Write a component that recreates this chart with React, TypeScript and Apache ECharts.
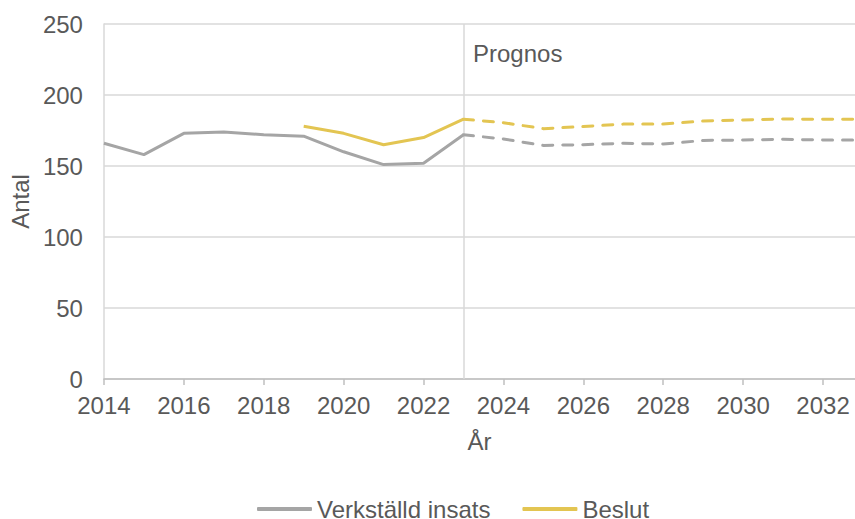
import React, { useEffect, useRef } from "react";
import * as echarts from "echarts";

const histYears = [2014, 2015, 2016, 2017, 2018, 2019, 2020, 2021, 2022, 2023];
const histVerkstalld = [166, 158, 173, 174, 172, 171, 160, 151, 152, 172];
const histBeslutYears = [2019, 2020, 2021, 2022, 2023];
const histBeslut = [178, 173, 165, 170, 183];
const progYears = [2023, 2024, 2025, 2026, 2027, 2028, 2029, 2030, 2031, 2032, 2033];
const progVerkstalld = [172, 169, 164.5, 165, 166, 165.5, 168, 168.3, 168.8, 168.3, 168.3];
const progBeslut = [183, 180.5, 176.3, 177.8, 179.5, 179.5, 181.7, 182.4, 183.1, 182.9, 183];
const xTickValues = [2014, 2016, 2018, 2020, 2022, 2024, 2026, 2028, 2030, 2032];
const prognosYear = 2023;

const GRAY = "#a5a5a5";
const YELLOW = "#e3c552";
const TEXT = "#595959";
const FONT = "Liberation Sans, Arial, sans-serif";
const FS = 24;

const zip = (xs: number[], ys: number[]) => xs.map((x, i) => [x, ys[i]]);

export default function App() {
  const ref = useRef<HTMLDivElement>(null);
  useEffect(() => {
    document.body.style.margin = "0";
    if (!ref.current) return;
    const chart = echarts.init(ref.current, undefined, { renderer: "svg" });
    chart.setOption({
      animation: false,
      textStyle: { fontFamily: FONT },
      grid: { left: 103, right: 0, top: 24, bottom: 140 },
      xAxis: {
        type: "value",
        min: 2014,
        max: 2032.8,
        name: "År",
        nameLocation: "middle",
        nameGap: 50,
        nameTextStyle: { color: TEXT, fontSize: FS, fontFamily: FONT },
        axisLine: { show: true, lineStyle: { color: "#bfbfbf", width: 1.5 } },
        axisTick: { show: true, length: 6, customValues: xTickValues, lineStyle: { color: "#bfbfbf", width: 1.5 } },
        axisLabel: {
          customValues: xTickValues,
          color: TEXT,
          fontSize: FS,
          fontFamily: FONT,
          margin: 14,
          formatter: (v: number) => String(v),
        },
        splitLine: { show: false },
      },
      yAxis: {
        type: "value",
        min: 0,
        max: 250,
        interval: 50,
        name: "Antal",
        nameLocation: "middle",
        nameGap: 69,
        nameTextStyle: { color: TEXT, fontSize: FS, fontFamily: FONT },
        axisLine: { show: true, lineStyle: { color: "#d9d9d9", width: 1.5 } },
        axisTick: { show: false },
        axisLabel: { color: TEXT, fontSize: FS, fontFamily: FONT, margin: 21 },
        splitLine: { show: true, lineStyle: { color: "#d9d9d9", width: 1.5 } },
      },
      legend: {
        left: 257,
        top: 497,
        padding: 0,
        itemWidth: 55,
        itemHeight: 4,
        itemGap: 32,
        textStyle: { color: TEXT, fontSize: FS, fontFamily: FONT, lineHeight: 18 },
        data: [
          { name: "Verkställd insats", icon: "roundRect", itemStyle: { color: GRAY } },
          { name: "Beslut", icon: "roundRect", itemStyle: { color: YELLOW } },
        ],
      },
      graphic: [
        {
          type: "text",
          left: 473,
          top: 41,
          style: { text: "Prognos", fill: TEXT, font: `${FS}px ${FONT}` },
        },
      ],
      series: [
        {
          name: "Verkställd insats",
          type: "line",
          symbol: "none",
          data: zip(histYears, histVerkstalld),
          lineStyle: { color: GRAY, width: 3 },
          itemStyle: { color: GRAY },
          z: 3,
          markLine: {
            silent: true,
            symbol: "none",
            label: { show: false },
            lineStyle: { color: "#d9d9d9", width: 1.5, type: "solid" },
            data: [{ xAxis: prognosYear }],
            z: 1,
          },
        },
        {
          name: "Verkställd insats",
          type: "line",
          symbol: "none",
          data: zip(progYears, progVerkstalld),
          lineStyle: { color: GRAY, width: 3, type: [10, 10], cap: "round" },
          itemStyle: { color: GRAY },
          z: 3,
        },
        {
          name: "Beslut",
          type: "line",
          symbol: "none",
          data: zip(histBeslutYears, histBeslut),
          lineStyle: { color: YELLOW, width: 3 },
          itemStyle: { color: YELLOW },
          z: 4,
        },
        {
          name: "Beslut",
          type: "line",
          symbol: "none",
          data: zip(progYears, progBeslut),
          lineStyle: { color: YELLOW, width: 3, type: [10, 10], cap: "round" },
          itemStyle: { color: YELLOW },
          z: 4,
        },
      ],
    });
    return () => chart.dispose();
  }, []);
  return <div ref={ref} style={{ width: 855, height: 519 }} />;
}
